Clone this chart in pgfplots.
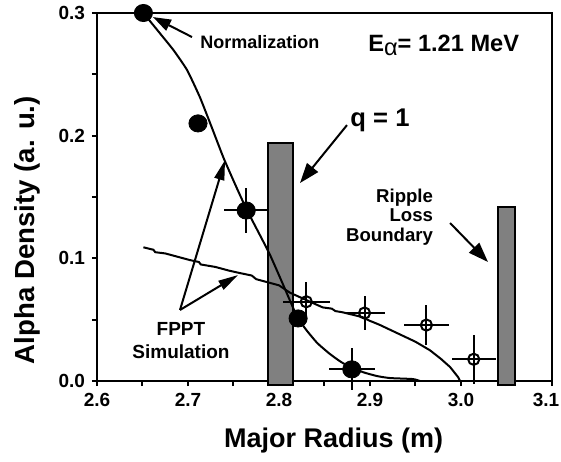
\documentclass[border=0pt]{standalone}
\usepackage{pgfplots}
\pgfplotsset{compat=1.18}
\usepackage{fontspec}
\setmainfont{Liberation Sans}
\usetikzlibrary{arrows.meta}

\begin{document}
\begin{tikzpicture}
\begin{axis}[
    width=227.5pt, height=184pt, scale only axis,
    xmin=2.6, xmax=3.1, ymin=0, ymax=0.3,
    clip=false,
    xtick={2.6,2.7,2.8,2.9,3.0,3.1},
    xticklabels={2.6,2.7,2.8,2.9,3.0,{\hspace*{-6pt}3.1}},
    ytick={0,0.1,0.2,0.3},
    minor xtick={2.65,2.75,2.85,2.95,3.05},
    minor ytick={0.05,0.15,0.25},
    tick align=outside,
    major tick length=2.5pt, minor tick length=2.5pt,
    xtick pos=lower, ytick pos=left,
    axis line style={line width=1pt},
    tick style={black, line width=1pt},
    minor tick style={black, line width=1pt},
    /pgf/number format/fixed,
    /pgf/number format/fixed zerofill,
    /pgf/number format/precision=1,
    /pgf/number format/assume math mode=true,
    ticklabel style={font=\bfseries\fontsize{9.5}{11}\selectfont},
    xlabel={Major Radius (m)},
    ylabel={Alpha Density (a. u.)},
    xlabel style={font=\bfseries\fontsize{13.5}{16}\selectfont,
        at={(axis description cs:0.52,-0.163)}, anchor=center},
    ylabel style={font=\bfseries\fontsize{13.8}{16}\selectfont,
        at={(axis description cs:-0.152,0.41)}, anchor=center},
]

% q = 1 and ripple loss boundary bars
\addplot[draw=black, line width=1pt, fill=gray] coordinates {
    (2.788,-0.003) (2.815,-0.003) (2.815,0.194) (2.788,0.194)} -- cycle;
\addplot[draw=black, line width=1pt, fill=gray] coordinates {
    (3.041,-0.003) (3.059,-0.003) (3.059,0.142) (3.041,0.142)} -- cycle;

% fit through measured points
\addplot[black, line width=1pt, smooth, tension=0.3] coordinates {
    (2.651,0.300) (2.669,0.2836) (2.684,0.2698) (2.699,0.2535)
    (2.713,0.2315) (2.726,0.207) (2.739,0.182) (2.752,0.160)
    (2.765,0.139) (2.790,0.103) (2.8165,0.058) (2.821,0.051)
    (2.830,0.0416) (2.842,0.031) (2.856,0.022) (2.870,0.0147)
    (2.892,0.0073) (2.908,0.004) (2.922,0.0024) (2.947,0.0016)
    (2.955,0.0)
};

% FPPT simulation
\addplot[black, line width=1pt] coordinates {
    (2.651,0.109) (2.662,0.107) (2.664,0.105) (2.675,0.104)
    (2.690,0.101) (2.702,0.0986) (2.712,0.097) (2.714,0.095)
    (2.730,0.093) (2.745,0.090) (2.757,0.088) (2.770,0.086)
    (2.775,0.083) (2.790,0.080) (2.800,0.078) (2.812,0.072)
    (2.830,0.066) (2.848,0.060) (2.858,0.059) (2.862,0.057)
    (2.870,0.056) (2.892,0.052) (2.900,0.049) (2.910,0.046)
    (2.930,0.039) (2.950,0.032) (2.966,0.025) (2.978,0.018)
    (2.988,0.0114) (2.997,0.003) (2.999,0.0)
};

% measured, filled
\addplot[only marks, mark=*, mark size=4.3pt,
    mark options={xscale=1.06, fill=black},
    error bars/.cd, x dir=both, y dir=both, x explicit, y explicit,
    error mark=none, error bar style={line width=1pt}] coordinates {
    (2.651,0.300) +- (0,0)
    (2.711,0.210) +- (0,0)
    (2.764,0.139) +- (0.024,0.018)
    (2.821,0.051) +- (0,0)
    (2.880,0.0095) +- (0.025,0.017)
};

% measured, open
\addplot[only marks, mark=o, mark size=2.8pt,
    mark options={line width=1pt},
    error bars/.cd, x dir=both, y dir=both, x explicit, y explicit,
    error mark=none, error bar style={line width=1pt}] coordinates {
    (2.830,0.0646) +- (0.026,0.016)
    (2.894,0.0554) +- (0.022,0.014)
    (2.962,0.0456) +- (0.025,0.016)
    (3.014,0.0177) +- (0.024,0.020)
};

% annotations
\draw[line width=1pt, -{Triangle[length=9pt,width=6pt]}]
    (axis cs:2.7044,0.2804) -- (axis cs:2.6615,0.2967);
\draw[line width=1pt, -{Triangle[length=10pt,width=7pt]}]
    (axis cs:2.8747,0.2086) -- (axis cs:2.8231,0.1614);
\draw[line width=1pt, -{Triangle[length=10pt,width=7pt]}]
    (axis cs:2.988,0.1288) -- (axis cs:3.0297,0.097);
\draw[line width=1pt, -{Triangle[length=10pt,width=5pt]}]
    (axis cs:2.6912,0.0579) -- (axis cs:2.7407,0.1801);
\draw[line width=1pt, -{Triangle[length=10pt,width=5pt]}]
    (axis cs:2.6912,0.0579) -- (axis cs:2.755,0.0864);

\node[font=\bfseries\fontsize{9}{10.8}\selectfont] at (axis cs:2.779,0.2763) {Normalization};
\node[font=\bfseries\fontsize{11.8}{13}\selectfont] at (axis cs:2.981,0.2738)
    {E{\mdseries\raisebox{-0.3ex}{α}}= 1.21 MeV};
\node[font=\bfseries\fontsize{12.8}{14}\selectfont] at (axis cs:2.911,0.2127) {q = 1};
\node[font=\bfseries\fontsize{9.3}{9.75}\selectfont, align=right, anchor=east]
    at (axis cs:2.977,0.1337) {Ripple\\Loss\\Boundary};
\node[font=\bfseries\fontsize{9.5}{11.5}\selectfont, align=center]
    at (axis cs:2.6923,0.0326) {FPPT\\Simulation};
\end{axis}
\pgfresetboundingbox
\path[use as bounding box] ([shift={(-48.5pt,-40pt)}]current axis.south west)
    rectangle ([shift={(4.5pt,6.5pt)}]current axis.north east);
\end{tikzpicture}
\end{document}
